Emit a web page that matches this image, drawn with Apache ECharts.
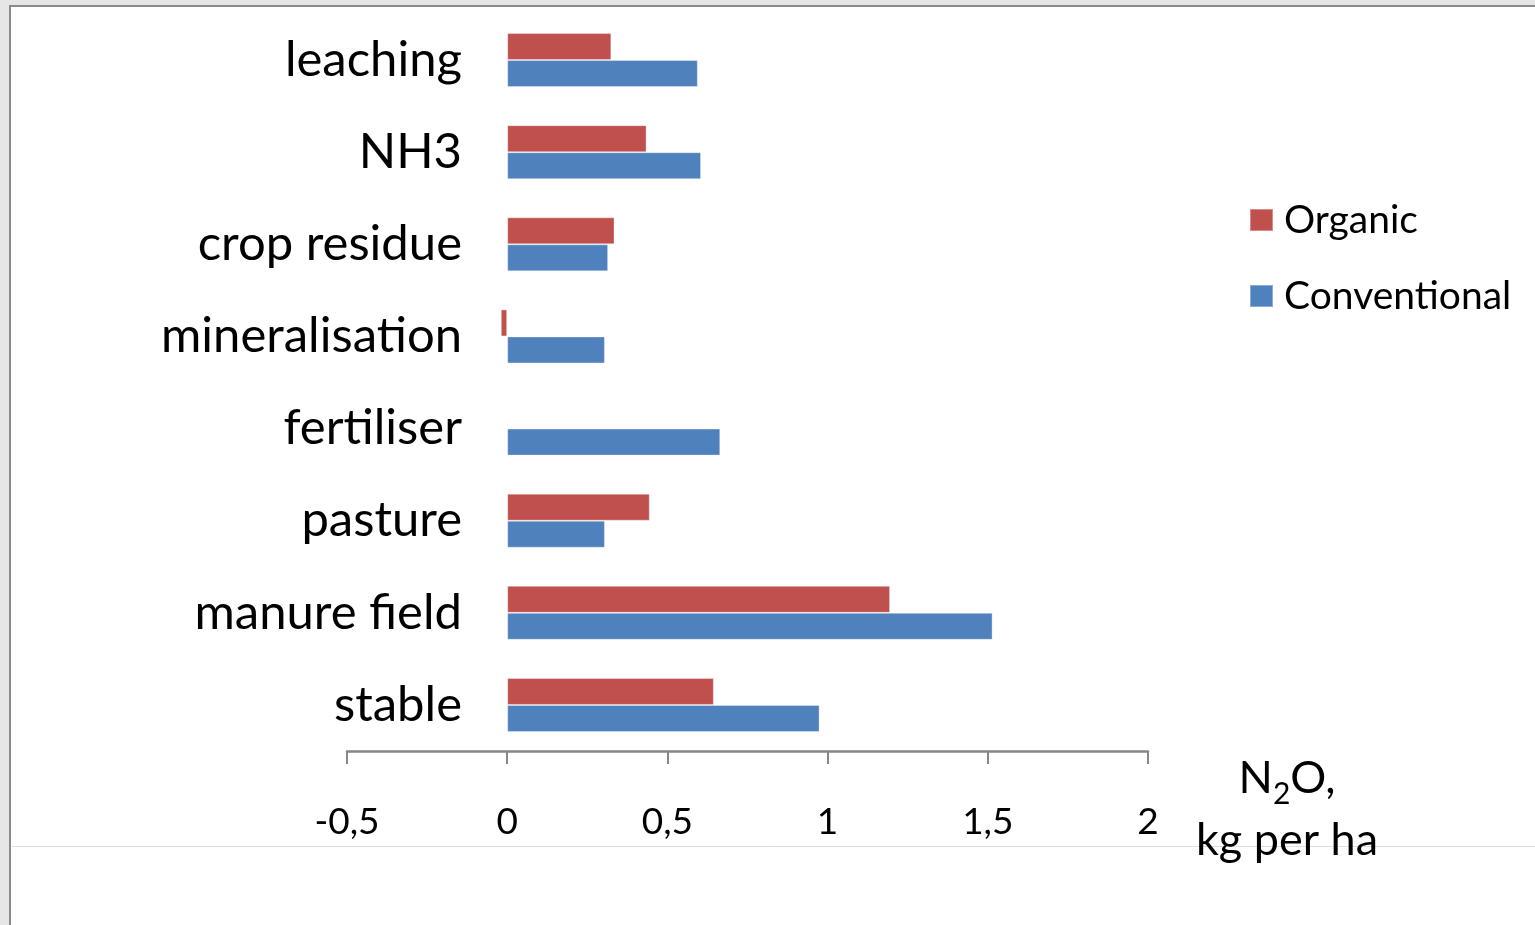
<!DOCTYPE html>
<html>
<head>
<meta charset="utf-8">
<script src="https://cdn.jsdelivr.net/npm/echarts@6/dist/echarts.min.js"></script>
<style>
html,body{margin:0;padding:0;background:#fff;}
#chart{width:1535px;height:925px;}
</style>
</head>
<body>
<div id="chart"></div>
<script>
var categories = ['leaching', 'NH3', 'crop residue', 'mineralisation', 'fertiliser', 'pasture', 'manure field', 'stable'];
var organic = [0.325, 0.435, 0.335, -0.02, 0, 0.445, 1.195, 0.645];
var conventional = [0.595, 0.605, 0.315, 0.305, 0.665, 0.305, 1.515, 0.975];
var seriesNames = ['Organic', 'Conventional'];
var xTicks = [-0.5, 0, 0.5, 1, 1.5, 2];

var FONT = 'Lato';
var chart = echarts.init(document.getElementById('chart'), null, {renderer: 'canvas'});

var option = {
  backgroundColor: '#e6e6e6',
  animation: false,
  textStyle: {fontFamily: FONT, color: '#000'},
  graphic: [
    {type: 'rect', z: -10, shape: {x: 10, y: 6, width: 1600, height: 1000},
     style: {fill: '#ffffff', stroke: '#8a8a8a', lineWidth: 2}},
    {type: 'line', z: -9, shape: {x1: 12, y1: 846.5, x2: 1535, y2: 846.5},
     style: {stroke: '#dedede', lineWidth: 1}}
  ],
  legend: {
    orient: 'vertical',
    left: 1249,
    top: 199,
    padding: 0,
    itemWidth: 23,
    itemHeight: 22,
    itemGap: 34,
    icon: 'rect',
    textStyle: {fontFamily: FONT, fontSize: 39, lineHeight: 42, color: '#000', padding: [0, 0, 0, 6]},
    data: seriesNames
  },
  grid: {left: 347, right: 387, top: 14, bottom: 174, containLabel: false, outerBoundsMode: 'none'},
  xAxis: {
    type: 'value',
    min: xTicks[0],
    max: xTicks[xTicks.length - 1],
    interval: 0.5,
    axisLine: {show: true, onZero: false, lineStyle: {color: '#878787', width: 2.5}},
    axisTick: {show: true, length: 13, lineStyle: {color: '#878787', width: 2}},
    splitLine: {show: false},
    axisLabel: {
      fontFamily: FONT, fontSize: 37, lineHeight: 40, color: '#000', margin: 51,
      formatter: function (v) { return String(v).replace('.', ','); }
    },
    name: '{n|N}{s|2}{n|O,}\n{n|kg per ha}',
    nameLocation: 'end',
    nameGap: 139,
    nameTextStyle: {
      align: 'center', verticalAlign: 'top', padding: [-4, 0, 0, 0],
      rich: {
        n: {fontFamily: FONT, fontSize: 45, lineHeight: 62, color: '#000', verticalAlign: 'middle'},
        s: {fontFamily: FONT, fontSize: 30, lineHeight: 30, color: '#000', verticalAlign: 'bottom'}
      }
    }
  },
  yAxis: {
    type: 'category',
    inverse: true,
    data: categories,
    offset: -161,
    axisLine: {show: false},
    axisTick: {show: false},
    axisLabel: {fontFamily: FONT, fontSize: 49, color: '#000', margin: 46}
  },
  series: [
    {
      name: seriesNames[0], type: 'bar', data: organic, barWidth: 27, barGap: '0%',
      itemStyle: {color: '#C0504D', borderColor: 'rgba(255,255,255,0.35)', borderWidth: 1}
    },
    {
      name: seriesNames[1], type: 'bar', data: conventional, barWidth: 27, barGap: '0%',
      itemStyle: {color: '#4F81BD', borderColor: 'rgba(255,255,255,0.35)', borderWidth: 1}
    }
  ]
};
chart.setOption(option);
</script>
</body>
</html>
